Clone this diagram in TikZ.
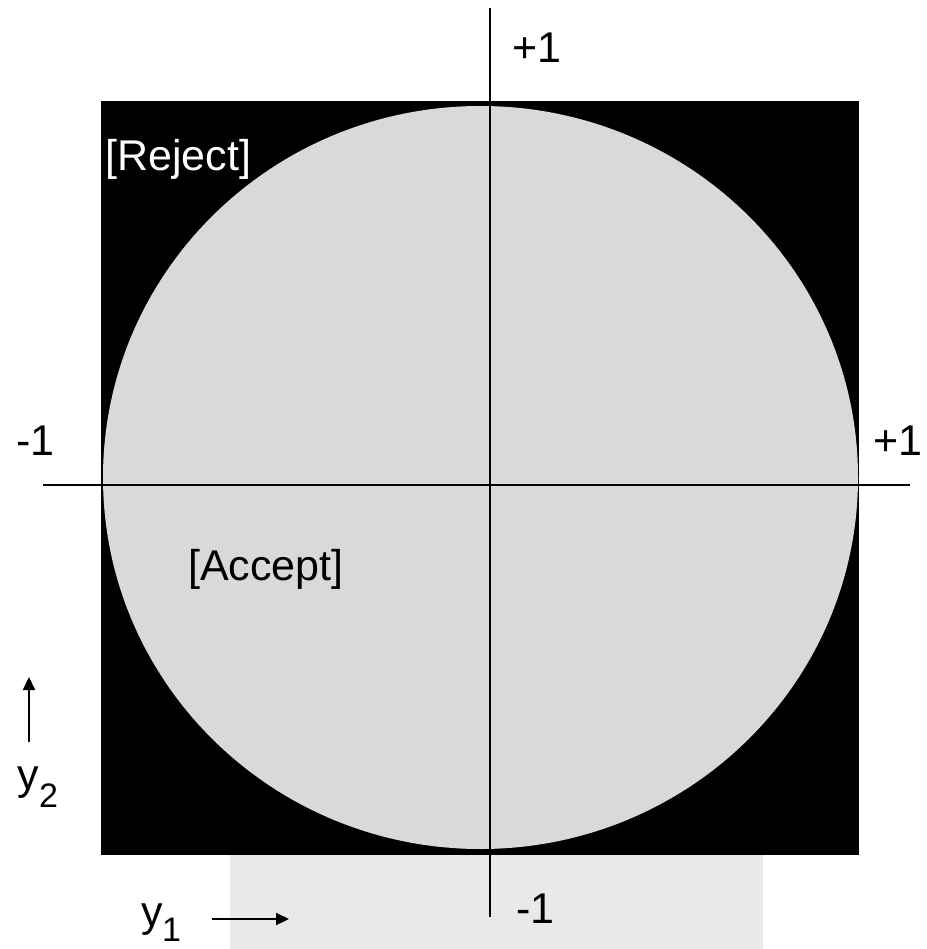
\documentclass[tikz,border=0pt]{standalone}
\usepackage{fontspec}
\setmainfont{Liberation Sans}
\usetikzlibrary{arrows.meta}
\definecolor{acceptgray}{HTML}{D9D9D9}
\definecolor{bggray}{HTML}{E9E9E9}
\begin{document}
\begin{tikzpicture}[x=1pt,y=-1pt,
  lbl/.style={inner sep=0pt,font=\fontsize{43}{50}\selectfont,anchor=base west},
  sublbl/.style={inner sep=0pt,font=\fontsize{34}{40}\selectfont,anchor=base west},
  axisline/.style={line width=2.2pt,black},
  dirarrow/.style={line width=2.2pt,-{Triangle[length=13pt,width=12pt]}}]
\useasboundingbox (0,0) rectangle (926,949);
\fill[white] (0,0) rectangle (926,949);
% faint background panel
\fill[bggray] (230,855) rectangle (763,949);
% reject square
\fill[black] (101,101) rectangle (859,855);
% accept disk
\fill[acceptgray] (480.5,477.5) ellipse [x radius=377.5pt, y radius=371.5pt];
% axes
\coordinate (vtop) at (490,8);
\coordinate (vbot) at (490,917);
\coordinate (hl) at (43,485);
\coordinate (hr) at (910,485);
\draw[axisline] (vtop) -- (vbot);
\draw[axisline] (hl) -- (hr);
% labels
\node[lbl] (ptop) at (512,63) {+1};
\node[lbl] (pright) at (873,455) {+1};
\node[lbl] (mleft) at (16,455) {-1};
\node[lbl] (mbot) at (516,923) {-1};
\node[lbl,text=white] (rej) at (105,171) {[Reject]};
\node[lbl] (acc) at (188,580) {[Accept]};
% direction labels
\node[lbl] (ytwo) at (17,789) {y};
\node[sublbl] (ytwosub) at (39,807) {2};
\node[lbl] (yone) at (141,926) {y};
\node[sublbl] (yonesub) at (162,941) {1};
\coordinate (a2s) at (29,742);
\coordinate (a2e) at (29,677);
\coordinate (a1s) at (212,919);
\coordinate (a1e) at (289,919);
\draw[dirarrow] (a2s) -- (a2e);
\draw[dirarrow] (a1s) -- (a1e);
\end{tikzpicture}
\end{document}
